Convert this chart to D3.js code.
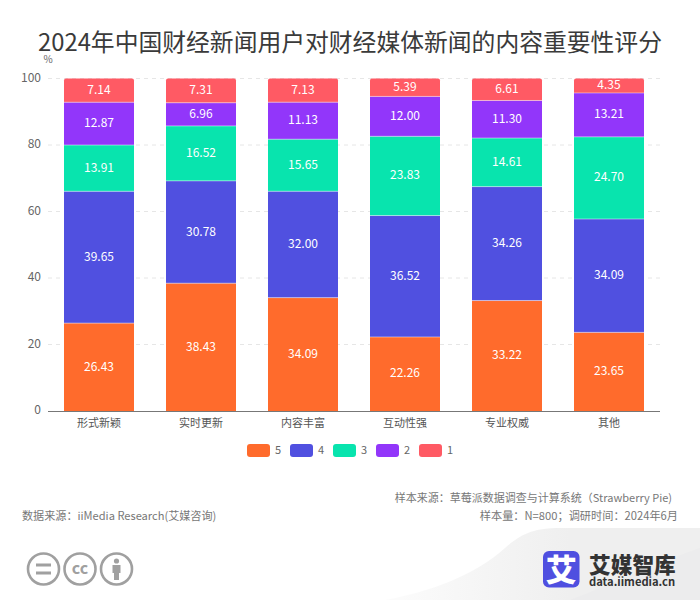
<!DOCTYPE html>
<html><head><meta charset="utf-8">
<script src="https://cdn.jsdelivr.net/npm/d3@7"></script>
<style>html,body{margin:0;padding:0;background:#fff}svg{display:block}text{font-family:"Noto Sans CJK SC","Noto Sans",sans-serif}</style>
</head><body><svg id="c" width="700" height="600"></svg>
<script>
const categories=["形式新颖","实时更新","内容丰富","互动性强","专业权威","其他"];
const seriesNames=["5","4","3","2","1"];
const s5=[26.43,38.43,34.09,22.26,33.22,23.65];
const s4=[39.65,30.78,32.00,36.52,34.26,34.09];
const s3=[13.91,16.52,15.65,23.83,14.61,24.70];
const s2=[12.87,6.96,11.13,12.00,11.30,13.21];
const s1=[7.14,7.31,7.13,5.39,6.61,4.35];
const yTicks=[0,20,40,60,80,100];
const colors=["#ff6b2c","#5050e0","#08e4ae","#9236fa","#ff5a64"];
const titleText="2024年中国财经新闻用户对财经媒体新闻的内容重要性评分";
const svg=d3.select("#c");
const seriesValues=[s5,s4,s3,s2,s1];
const x=d3.scaleBand().domain(categories).range([48,660]).paddingInner(32/102).paddingOuter(16/102);
const y=d3.scaleLinear().domain([0,100]).range([411,78.5]);

// footer background
const defs=svg.append("defs");
const gr=defs.append("linearGradient").attr("id","fg").attr("gradientUnits","userSpaceOnUse").attr("x1",400).attr("x2",570).attr("y1",0).attr("y2",0);
gr.append("stop").attr("offset",0).attr("stop-color","#fbfbfb");
gr.append("stop").attr("offset",1).attr("stop-color","#efefef");
const bg=svg.append("g");
bg.append("path").attr("d","M385 600 C430 592 475 575 505 548 C522 533 535 528 560 528 L700 528 L700 600 Z").attr("fill","url(#fg)");
bg.append("path").attr("d","M570 600 C610 585 650 565 700 548 L700 600 Z").attr("fill","#ececed");

svg.append("text").attr("x",350).attr("y",50.5).attr("text-anchor","middle").attr("font-size",23.8).attr("fill","#3a3a3a").text(titleText);
svg.append("text").attr("x",48).attr("y",63).attr("text-anchor","middle").attr("font-size",10).attr("fill","#666").text("%");

// grid and axis
svg.append("g").selectAll("line").data(yTicks.filter(d=>d>0)).join("line")
 .attr("x1",48).attr("x2",660).attr("y1",d=>y(d)).attr("y2",d=>y(d))
 .attr("stroke","#e6e6e6").attr("stroke-dasharray","4 4");
svg.append("g").selectAll("text").data(yTicks).join("text")
 .attr("x",41).attr("y",d=>y(d)+3.2).attr("text-anchor","end").attr("font-size",12).attr("fill","#666").text(d=>d);
svg.append("line").attr("x1",48).attr("x2",660).attr("y1",y(0)+.5).attr("y2",y(0)+.5).attr("stroke","#777");
svg.append("g").selectAll("text").data(categories).join("text")
 .attr("x",d=>x(d)+x.bandwidth()/2).attr("y",427).attr("text-anchor","middle").attr("font-size",11).attr("fill","#555").text(d=>d);

// bars
const stack=d3.stack().keys(seriesNames.map((_,i)=>i)).value((d,k)=>seriesValues[k][d]);
const layers=stack(categories.map((_,i)=>i));
layers.forEach((l,k)=>{
  const g=svg.append("g");
  l.forEach((d,i)=>{
    const X=x(categories[i]),W=x.bandwidth(),T=y(d[1]),B=y(d[0]);
    if(k===4){
      const r=2;
      g.append("path").attr("d",`M${X} ${B}L${X} ${T+r}Q${X} ${T} ${X+r} ${T}L${X+W-r} ${T}Q${X+W} ${T} ${X+W} ${T+r}L${X+W} ${B}Z`).attr("fill",colors[k]);
    } else g.append("rect").attr("x",X).attr("y",T).attr("width",W).attr("height",B-T).attr("fill",colors[k]);
    if(k>0) g.append("line").attr("x1",X).attr("x2",X+W).attr("y1",B).attr("y2",B).attr("stroke","#fff").attr("stroke-opacity",.45).attr("stroke-width",1);
    g.append("text").attr("x",X+W/2).attr("y",(T+B)/2+3.5).attr("text-anchor","middle").attr("font-size",12).attr("font-weight",400).attr("fill","#fff").text(seriesValues[k][i].toFixed(2));
  });
});

// legend
const legendX=d3.scaleOrdinal().domain(seriesNames).range([247,290,333,376,419]);
const lg=svg.append("g").selectAll("g").data(seriesNames).join("g").attr("transform",d=>`translate(${legendX(d)},444)`);
lg.append("rect").attr("width",23).attr("height",13).attr("rx",3).attr("fill",(d,i)=>colors[i]);
lg.append("text").attr("x",28).attr("y",10).attr("font-size",11).attr("fill","#666").text(d=>d);

// notes
const note=(x0,y0,a,t,fs)=>svg.append("text").attr("x",x0).attr("y",y0).attr("text-anchor",a).attr("font-size",fs).attr("fill","#777").text(t);
note(672,502,"end","样本来源：草莓派数据调查与计算系统（Strawberry Pie)",11);
note(678,520,"end","样本量：N=800；调研时间：2024年6月",11.2);
note(22,520,"start","数据来源：iiMedia Research(艾媒咨询)",11.1);

// cc icons
const ic=svg.append("g").attr("fill","none").attr("stroke","#a0a0a0").attr("stroke-width",2.6);
[43.5,80,116.5].forEach(cx=>ic.append("circle").attr("cx",cx).attr("cy",569).attr("r",15.5));
ic.append("path").attr("d","M36 565H51M36 573H51").attr("stroke-width",3);
svg.append("text").attr("x",80).attr("y",574).attr("text-anchor","middle").attr("font-size",16).attr("font-weight",700).attr("fill","#a0a0a0").text("cc");
const p=svg.append("g").attr("fill","#a0a0a0");
p.append("circle").attr("cx",116.5).attr("cy",561).attr("r",2.6);
p.append("path").attr("d","M112.5 565H120.5V573H119V580H114V573H112.5Z");

// logo
svg.append("rect").attr("x",543).attr("y",551).attr("width",36.5).attr("height",36.5).attr("rx",6).attr("fill","#4f4fe0");
svg.append("text").attr("x",561.25).attr("y",580.5).attr("text-anchor","middle").attr("font-size",31).attr("font-weight",900).attr("fill","#fff").text("艾");
svg.append("text").attr("x",589).attr("y",572.5).attr("font-size",21.7).attr("font-weight",900).attr("fill","#333").text("艾媒智库");
svg.append("text").attr("x",589).attr("y",585.5).attr("font-size",11.2).attr("font-weight",700).attr("fill","#333").text("data.iimedia.cn");
</script></body></html>
